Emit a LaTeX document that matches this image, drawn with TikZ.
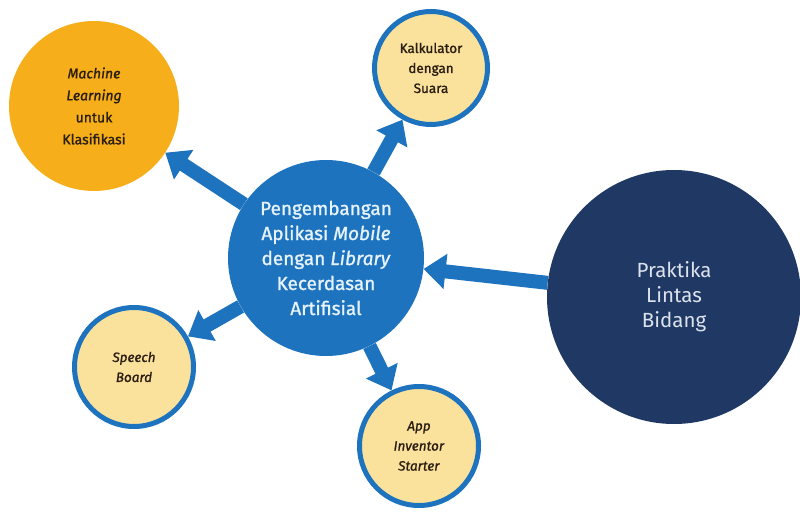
\documentclass[tikz,border=0pt]{standalone}
\usepackage{fontspec}
\setmainfont{Fira Sans}
\newfontfamily\projfont{Fira Sans}[FakeBold=1.2]
\usetikzlibrary{arrows.meta}
\definecolor{hubBlue}{HTML}{1E73BE}
\definecolor{hubInk}{HTML}{E6F2FC}
\definecolor{mlOrange}{HTML}{F6AE1A}
\definecolor{projFill}{HTML}{FBE29C}
\definecolor{projInk}{HTML}{2A1E12}
\definecolor{navyDk}{HTML}{1F3864}
\definecolor{navyInk}{HTML}{DCE3EC}
\tikzset{
  hub/.style     = {circle, fill=hubBlue, minimum size=196pt, inner sep=0pt,
                    text=hubInk, align=center,
                    font=\projfont\fontsize{19}{25}\selectfont},
  topic/.style   = {circle, fill=mlOrange, minimum size=170pt, inner sep=0pt,
                    text=projInk, align=center,
                    font=\projfont\fontsize{14}{22}\selectfont},
  proj/.style    = {circle, fill=projFill, draw=hubBlue, line width=5pt,
                    minimum size=119pt, inner sep=0pt, text=projInk,
                    align=center, font=\projfont\fontsize{13.5}{20}\selectfont},
  cross/.style   = {circle, fill=navyDk, minimum size=254pt, inner sep=0pt,
                    text=navyInk, align=center, font=\fontsize{20.5}{25}\selectfont},
  bigarr/.style  = {draw=hubBlue, line width=14pt,
                    -{Triangle[length=22pt, width=34pt]}},
}

\begin{document}
\begin{tikzpicture}[x=1pt, y=-1pt]
  \useasboundingbox (0,0) rectangle (800,513);

  \node[hub] (hub) at (326,258)
    {Pengembangan\\Aplikasi \textit{Mobile}\\dengan \textit{Library}\\Kecerdasan\\Artifisial};
  \node[topic] (ml) at (94,106)
    {\textit{Machine}\\\textit{Learning}\\untuk\\Klasifikasi};
  \node[proj, minimum size=113pt] (calc) at (431,68) {Kalkulator\\dengan\\Suara};
  \node[proj] (speech) at (134,367) {\textit{Speech}\\\textit{Board}};
  \node[proj] (appinv) at (419,446) {\textit{App}\\\textit{Inventor}\\\textit{Starter}};
  \node[cross] (lintas) at (674,297) {Praktika\\Lintas\\Bidang};

  % arrows out of the hub
  \draw[bigarr] (hub) -- (ml);
  \draw[bigarr] (hub) -- (calc);
  \draw[bigarr] (hub) -- (speech);
  \draw[bigarr] (hub) -- (appinv);
  \draw[bigarr] (lintas) -- (hub);
\end{tikzpicture}
\end{document}
